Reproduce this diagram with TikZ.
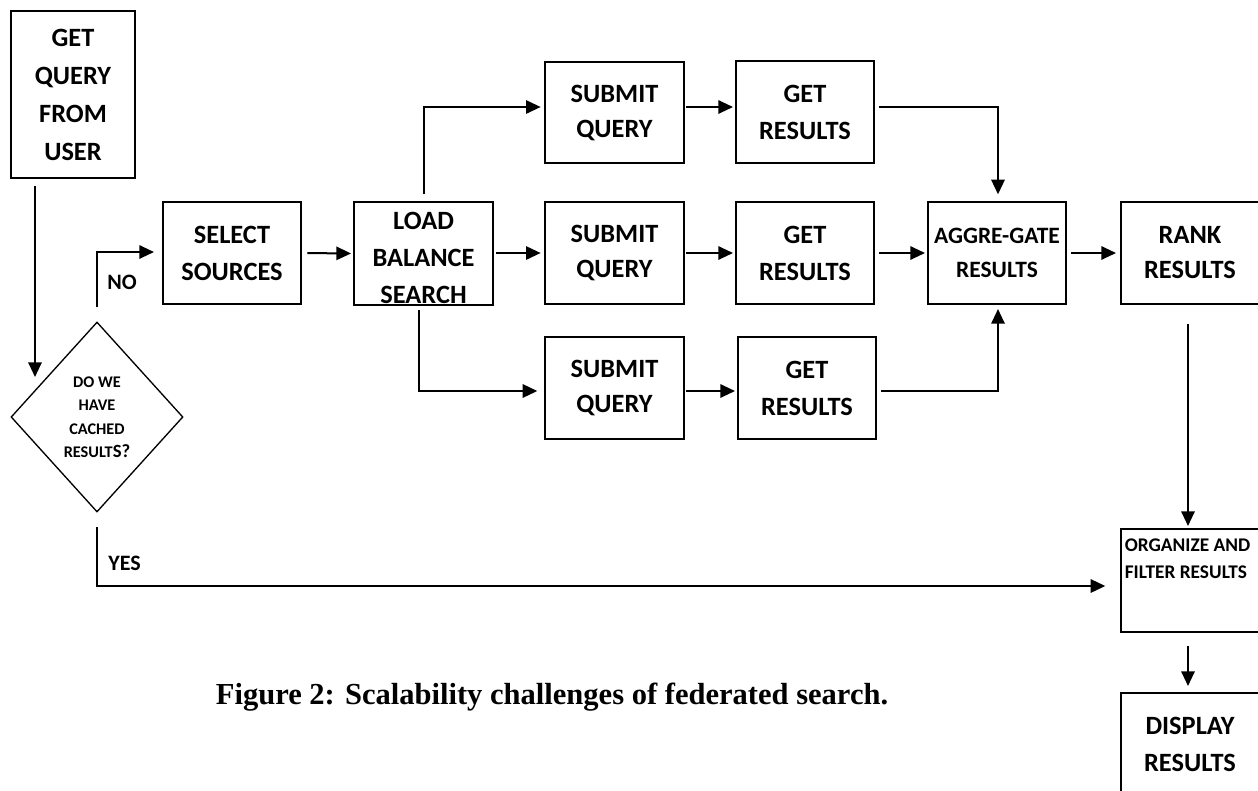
\documentclass[tikz,border=0pt]{standalone}
\usepackage{fontspec}
\setmainfont{Carlito}
\newfontfamily\capfont{Liberation Serif}
\usetikzlibrary{arrows.meta,shapes.geometric,calc}
\begin{document}
\begin{tikzpicture}[x=0.75pt,y=-0.75pt,
  box/.style={draw, line width=1.5pt, inner sep=0pt, align=center,
    font=\bfseries\fontsize{19.8}{27.75}\selectfont,
    minimum width=103.5pt, minimum height=76.5pt},
  txt/.style={inner sep=0pt, align=center, font=\bfseries\fontsize{19.8}{27.75}\selectfont},
  arr/.style={line width=1.5pt, -{Triangle[length=11pt,width=10pt]}},
  lab/.style={inner sep=0pt, font=\bfseries\fontsize{16.5}{18}\selectfont}
]
\useasboundingbox (0,0) rectangle (1258,790);
\clip (0,0) rectangle (1258,790);

% nodes
\node[box, minimum width=93pt, minimum height=125.25pt,
  font=\bfseries\fontsize{19.8}{28.5}\selectfont] (gq) at (73,94.5) {GET\\QUERY\\FROM\\USER};
\node[draw, diamond, line width=1pt, minimum width=129pt, minimum height=142.5pt,
  inner sep=0pt, align=center, font=\bfseries\fontsize{12.2}{17.6}\selectfont]
  (dia) at (97,417) {DO WE\\HAVE\\CACHED\\RESULT{\fontsize{14}{14}\selectfont S?}};
\node[box] (sel) at (232,253) {SELECT\\SOURCES};
\node[box, minimum width=104.25pt, minimum height=77.25pt] (load) at (423.5,253.5) {};
\node[txt, font=\bfseries\fontsize{19.8}{28}\selectfont] (loadtxt) at (423.5,258) {LOAD\\BALANCE\\SEARCH};

\node[box, minimum width=104.25pt, minimum height=75.75pt,
  font=\bfseries\fontsize{19.8}{26.25}\selectfont] (sub1) at (614.5,112.5) {SUBMIT\\QUERY};
\node[box, minimum width=104.25pt, minimum height=76.5pt,
  font=\bfseries\fontsize{19.8}{26.25}\selectfont] (sub2) at (614.5,253) {SUBMIT\\QUERY};
\node[box, minimum width=104.25pt, minimum height=76.5pt,
  font=\bfseries\fontsize{19.8}{26.25}\selectfont] (sub3) at (614.5,388) {SUBMIT\\QUERY};

\node[box] (get1) at (805,112) {GET\\RESULTS};
\node[box] (get2) at (805,253) {GET\\RESULTS};
\node[box] (get3) at (807,388) {GET\\RESULTS};

\node[box, font=\bfseries\fontsize{17.6}{25.5}\selectfont] (agg) at (997,253) {AGGRE-GATE\\RESULTS};
\node[box, font=\bfseries\fontsize{19.8}{26.25}\selectfont] (rank) at (1190,253) {RANK\\RESULTS};
\node[box, minimum height=77.25pt] (org) at (1190,580.5) {};
\node[inner sep=0pt, align=left, anchor=north west,
  font=\bfseries\fontsize{14.5}{20.25}\selectfont] (orgtxt) at (1124.5,539) {ORGANIZE AND\\FILTER RESULTS};
\node[box] (disp) at (1190,744) {DISPLAY\\RESULTS};

\node[lab] (nolab) at (122,282) {NO};
\node[lab] (yeslab) at (124.5,563) {YES};

\node[inner sep=0pt, font=\capfont\bfseries\fontsize{22.9}{26}\selectfont] (capt) at (552,697)
  {Figure 2: Scalability challenges of federated search.};

% helper rows
\coordinate (r1) at (0,107);
\coordinate (r2) at (0,253);
\coordinate (r3) at (0,391);
\coordinate (r4) at (0,586);
\coordinate (rno) at (0,252);
\coordinate (dtip) at (35,377);

% connectors
\draw[arr, shorten <=5pt] (gq.south -| dtip) -- (dtip);
\draw[arr, shorten <=10.5pt, shorten >=6pt] (dia.north) |- (sel.west |- rno);
\draw[arr, shorten <=11pt, shorten >=11pt] (dia.south) |- (org.west |- r4);
\draw[arr, shorten <=4pt, shorten >=1.5pt] (sel.east) -- (load.west);
\draw[arr, shorten <=5pt, shorten >=2.5pt] (load.north) |- (sub1.west |- r1);
\draw[arr, shorten <=1.5pt, shorten >=2.5pt] (load.east |- r2) -- (sub2.west |- r2);
\draw[arr, shorten <=3pt, shorten >=5pt] ([xshift=-3.4pt]load.south) |- (sub3.west |- r3);
\draw[arr, shorten <=1pt, shorten >=1.5pt] (sub1.east |- r1) -- (get1.west |- r1);
\draw[arr, shorten <=1pt, shorten >=1.5pt] (sub2.east |- r2) -- (get2.west |- r2);
\draw[arr, shorten <=1pt, shorten >=1.5pt] (sub3.east |- r3) -- (get3.west |- r3);
\draw[arr, shorten <=3pt, shorten >=5pt] (get1.east |- r1) -| ([xshift=0.75pt]agg.north);
\draw[arr, shorten <=3pt, shorten >=1.5pt] (get2.east |- r2) -- (agg.west |- r2);
\draw[arr, shorten <=3pt, shorten >=3pt] (get3.east |- r3) -| ([xshift=0.75pt]agg.south);
\draw[arr, shorten <=3pt, shorten >=3pt] (agg.east) -- (rank.west);
\draw[arr, shorten <=14pt, shorten >=1.5pt] ([xshift=-1.5pt]rank.south) -- ([xshift=-1.5pt]org.north);
\draw[arr, shorten <=10pt, shorten >=4.5pt] ([xshift=-1.5pt]org.south) -- ([xshift=-1.5pt]disp.north);
\end{tikzpicture}
\end{document}
